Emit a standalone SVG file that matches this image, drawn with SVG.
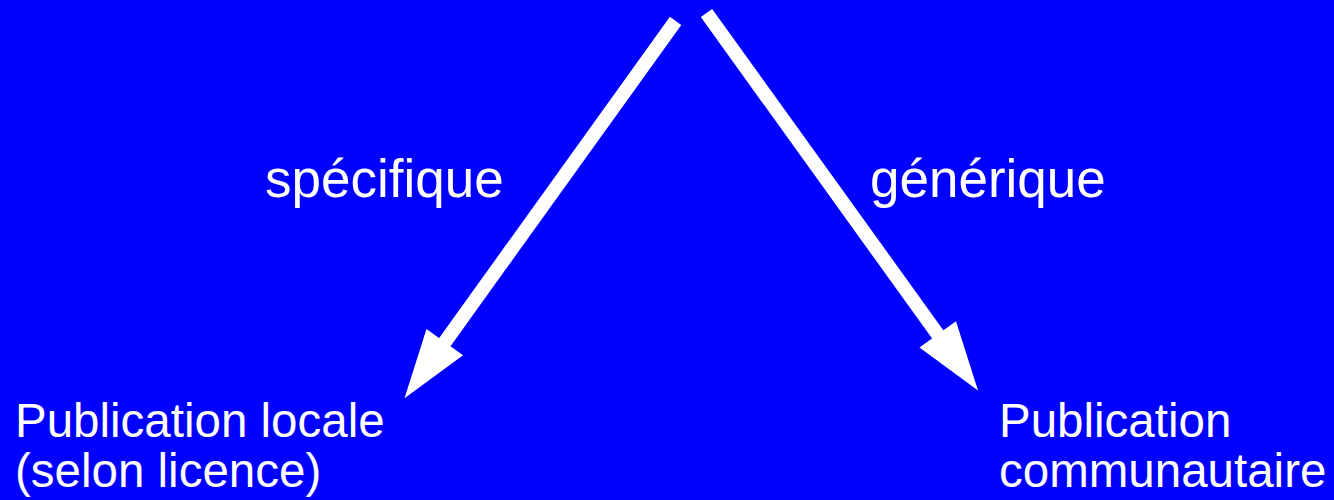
<svg xmlns="http://www.w3.org/2000/svg" width="1334" height="500" viewBox="0 0 1334 500">
<style>
.t{font-family:"Liberation Sans",Arial,sans-serif;fill:#fff}
.n{font-size:47.5px}
.l{font-size:53px}
.c{stroke:#fff;stroke-width:14;fill:none}
</style>
<defs>
<marker id="ah" markerUnits="userSpaceOnUse" markerWidth="70" markerHeight="48" viewBox="0 -24 70 48" refX="0" refY="0" orient="auto" overflow="visible">
<path d="M-2,-22.5 L67,0 L-2,22.5 z" fill="#fff"/>
</marker>
</defs>
<rect width="1334" height="500" fill="#0000ff"/>
<g id="connectors">
<line class="c" x1="675.6" y1="20.8" x2="443.6" y2="343.8" marker-end="url(#ah)"/>
<line class="c" x1="706.5" y1="13" x2="938.9" y2="336" marker-end="url(#ah)"/>
<text class="t l" x="265" y="197">spécifique</text>
<text class="t l" x="870" y="197">générique</text>
</g>
<g id="local">
<text class="t n" x="15" y="437">Publication locale</text>
<text class="t n" x="15" y="487">(selon licence)</text>
</g>
<g id="communautaire">
<text class="t n" x="999" y="437">Publication</text>
<text class="t n" x="999" y="487">communautaire</text>
</g>
</svg>
